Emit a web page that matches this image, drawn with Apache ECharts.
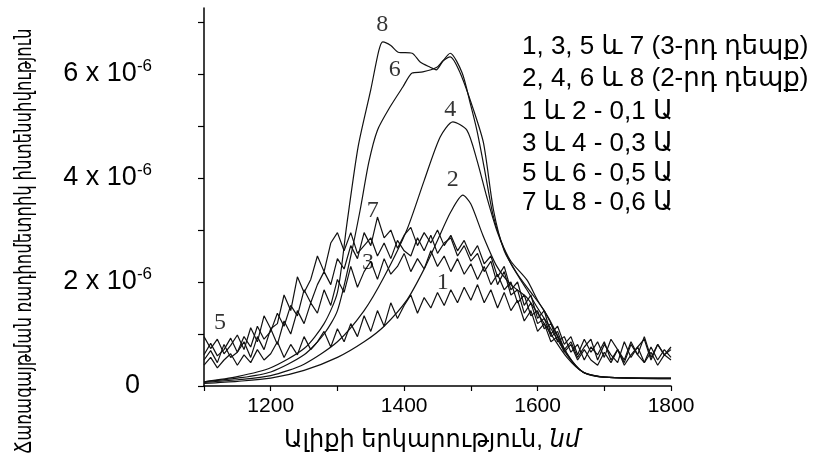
<!DOCTYPE html>
<html>
<head>
<meta charset="utf-8">
<script src="https://cdn.jsdelivr.net/npm/echarts@6/dist/echarts.min.js"></script>
<style>
html,body{margin:0;padding:0;background:#fff;}
#chart{width:813px;height:458px;}
</style>
</head>
<body>
<div id="chart"></div>
<script>
// ---------- data (intensity in units of 10^-6) ----------
var noisyWavelength = [1100,1110,1120,1130,1140,1150,1160,1170,1180,1190,1200,1210,1220,1230,1240,1250,1260,1270,1280,1290,1300,1310,1320,1330,1340,1350,1360,1370,1380,1390,1400,1410,1420,1430,1440,1450,1460,1470,1480,1490,1500,1510,1520,1530,1540,1550,1560,1570,1580,1590,1600,1610,1620,1630,1640,1650,1660,1670,1680,1690,1700,1710,1720,1730,1740,1750,1760,1770,1780,1790,1800];

var curve1 = [0.4,0.55,0.35,0.5,0.62,0.4,0.6,0.45,0.7,0.5,0.62,0.85,0.55,0.8,0.6,0.95,0.7,0.85,1.05,0.75,1.1,0.85,1.2,0.95,1.35,1.05,1.45,1.15,1.6,1.3,1.55,1.75,1.4,1.7,1.5,1.8,1.55,1.85,1.6,1.9,1.65,1.95,1.6,1.85,1.5,1.8,1.45,1.65,1.25,1.45,1.05,1.2,0.85,0.95,0.65,0.8,0.5,0.7,0.5,0.4,0.65,0.45,0.7,0.4,0.6,0.75,0.45,0.65,0.4,0.6,0.5];
var curve3 = [0.5,0.68,0.45,0.8,0.55,0.65,0.85,0.55,0.95,0.7,1.1,0.8,1.25,1.0,1.45,1.2,1.6,1.4,1.85,1.55,2.05,1.8,2.3,1.9,2.2,2.4,2.05,2.45,2.15,2.3,2.55,2.2,2.45,2.25,2.6,2.3,2.5,2.2,2.45,2.15,2.35,2.05,2.3,1.95,2.15,1.85,2.0,1.6,1.75,1.35,1.45,1.1,1.2,0.85,0.95,0.65,0.8,0.5,0.75,0.6,0.85,0.5,0.7,0.45,0.8,0.6,0.45,0.75,0.5,0.7,0.55];
var curve5 = [0.95,0.72,0.9,0.62,0.78,0.98,0.7,1.12,0.85,1.35,1.1,1.2,1.75,1.45,2.1,1.8,2.05,2.5,2.2,2.75,2.95,2.6,2.95,2.55,2.7,2.85,2.5,2.75,2.45,2.8,2.6,2.5,2.85,2.6,2.9,2.55,2.75,2.85,2.5,2.7,2.4,2.55,2.2,2.4,1.95,2.2,1.75,1.85,1.4,1.6,1.2,1.3,0.95,1.05,0.7,0.85,0.55,0.75,0.9,0.5,0.8,0.6,0.45,0.85,0.55,0.75,0.9,0.5,0.8,0.6,0.7];
var curve7 = [0.6,0.82,0.58,0.7,0.92,0.65,0.95,0.75,1.15,0.9,1.05,1.4,1.15,1.55,1.35,1.85,1.6,1.95,2.2,1.95,2.45,2.25,2.7,2.45,2.95,2.7,3.25,2.85,3.0,2.65,2.9,3.05,2.7,2.95,2.75,3.0,2.7,2.9,2.6,2.8,2.5,2.7,2.35,2.5,2.1,2.3,1.85,2.0,1.55,1.75,1.3,1.45,1.0,1.15,0.8,0.95,0.6,0.9,0.65,0.85,0.55,0.9,0.7,0.5,0.85,0.6,0.95,0.55,0.8,0.6,0.75];

var curve2Wavelength = [1100,1150,1200,1250,1300,1340,1370,1404,1430,1450,1470,1488,1500,1518,1539,1560,1584,1600,1620,1644,1668,1700,1800];
var curve2 = [0.05,0.09,0.15,0.3,0.55,0.85,1.15,1.65,2.25,2.8,3.35,3.67,3.5,2.9,2.3,1.95,1.7,1.4,1.0,0.55,0.27,0.17,0.14];

var curve4Wavelength = [1100,1150,1200,1250,1300,1340,1370,1404,1430,1454,1473,1494,1509,1524,1540,1560,1584,1600,1620,1644,1668,1700,1800];
var curve4 = [0.07,0.12,0.2,0.42,0.85,1.45,2.1,3.0,3.95,4.79,5.08,4.92,4.35,3.63,2.95,2.35,1.85,1.5,1.1,0.6,0.27,0.17,0.14];

var curve6Wavelength = [1100,1150,1200,1250,1280,1300,1320,1334,1347,1360,1379,1398,1412,1428,1449,1458,1469,1484,1504,1519,1534,1550,1570,1590,1610,1630,1650,1670,1700,1800];
var curve6 = [0.08,0.15,0.27,0.6,1.0,1.45,2.5,3.38,4.3,4.92,5.37,5.75,6.02,6.04,6.13,6.25,6.33,6.02,5.31,4.67,3.38,2.6,2.15,1.8,1.45,0.95,0.5,0.25,0.17,0.15];

var curve8Wavelength = [1100,1150,1200,1250,1280,1300,1314,1331,1350,1362,1368,1380,1391,1412,1424,1439,1448,1458,1469,1487,1499,1509,1520,1533,1545,1560,1584,1600,1619,1644,1668,1700,1800];
var curve8 = [0.08,0.18,0.35,0.72,1.2,1.8,3.1,4.6,5.7,6.45,6.62,6.55,6.42,6.40,6.23,6.13,6.08,6.25,6.4,6.02,5.44,4.92,4.2,3.3,2.8,2.4,2.04,1.65,1.25,0.63,0.27,0.17,0.15];

var curveNames = ['1','2','3','4','5','6','7','8'];
var labelWavelength = [1458,1473,1346,1469,1124,1386,1353,1367];
var labelIntensity  = [1.98,3.96,2.37,5.31,1.21,6.08,3.38,6.94];

var xTicks = [1200,1400,1600,1800];
var yTicks = [0,2,4,6];

var legendLines = [
  '1, 3, 5 և 7 (3-րդ դեպք)',
  '2, 4, 6 և 8 (2-րդ դեպք)',
  '1 և 2 - 0,1 Ա',
  '3 և 4 - 0,3 Ա',
  '5 և 6 - 0,5 Ա',
  '7 և 8 - 0,6 Ա'
];
var xTitle = 'Ալիքի երկարություն, ';
var xUnit = 'նմ';
var yTitle = 'Ճառագայթման ռադիոմետրիկ ինտենսիվություն';

// ---------- build ----------
function pairs(xs, ys){ return xs.map(function(x,i){ return [x, ys[i]]; }); }
var FONT = "'Liberation Sans','DejaVu Sans',sans-serif";
var INK = '#000';

var lineSeries = [
  {d: pairs(noisyWavelength, curve1), smooth:false},
  {d: pairs(curve2Wavelength, curve2), smooth:true},
  {d: pairs(noisyWavelength, curve3), smooth:false},
  {d: pairs(curve4Wavelength, curve4), smooth:true},
  {d: pairs(noisyWavelength, curve5), smooth:false},
  {d: pairs(curve6Wavelength, curve6), smooth:true},
  {d: pairs(noisyWavelength, curve7), smooth:false},
  {d: pairs(curve8Wavelength, curve8), smooth:true}
].map(function(s, i){
  return {
    type:'line', name: curveNames[i], data: s.d, showSymbol:false, symbol:'none',
    smooth: s.smooth ? 0.25 : false,
    lineStyle:{color:'#111', width:1.2}, silent:true, z:2
  };
});

lineSeries.push({
  type:'scatter', name:'labels', silent:true,
  symbolSize:1, itemStyle:{color:'rgba(0,0,0,0)'},
  data: labelWavelength.map(function(x,i){ return {value:[x, labelIntensity[i]], name: curveNames[i]}; }),
  label:{show:true, position:'inside', formatter:function(p){return p.name;},
         fontFamily:"'Liberation Serif','DejaVu Serif',serif", fontSize:24, color:INK},
  z:5
});

// y title: condensed to the length it has in the figure
var measureCtx = document.createElement('canvas').getContext('2d');
var yTitleFont = '22px ' + FONT;
measureCtx.font = yTitleFont;
var yTitleWidth = measureCtx.measureText(yTitle).width;
var yTitleTarget = 425;

var graphics = legendLines.map(function(t, i){
  var ys = [49, 81, 113.5, 146, 176, 205];
  return {type:'text', left:522, top: ys[i]-15, silent:true,
          style:{text:t, font:'26px ' + FONT, fill:INK}};
});
graphics.push({
  type:'text', x:25, y:241, rotation:Math.PI/2, scaleX: yTitleTarget / yTitleWidth, scaleY:1.05, silent:true,
  style:{text:yTitle, font:yTitleFont, fill:INK, align:'center', verticalAlign:'middle'}
});
graphics.push({
  type:'text', x:432, y:440, silent:true,
  style:{
    text:'{n|' + xTitle + '}{u|' + xUnit + '}',
    align:'center', verticalAlign:'middle',
    rich:{
      n:{font:'24px ' + FONT, fill:INK},
      u:{font:'italic 24px ' + FONT, fill:INK}
    }
  }
});

var chart = echarts.init(document.getElementById('chart'));
chart.setOption({
  animation:false,
  backgroundColor:'#fff',
  grid:{left:204, right:142, top:8, bottom:72, containLabel:false},
  xAxis:{
    type:'value', min:1100, max:1800, interval:100,
    axisLine:{show:true, lineStyle:{color:INK, width:1.5}},
    axisTick:{show:true, length:5, lineStyle:{color:INK, width:1.2}},
    splitLine:{show:false},
    axisLabel:{
      margin:10, color:INK, fontFamily:FONT, fontSize:21,
      formatter:function(v){ return xTicks.indexOf(v) >= 0 ? String(v) : ''; }
    }
  },
  yAxis:{
    type:'value', min:0, max:7.27, interval:1,
    axisLine:{show:true, lineStyle:{color:INK, width:1.5}},
    axisTick:{show:true, length:6, lineStyle:{color:INK, width:1.2}},
    splitLine:{show:false},
    axisLabel:{
      margin:52, color:INK, fontFamily:FONT,
      showMaxLabel:false,
      formatter:function(v){
        if (yTicks.indexOf(v) < 0) return '';
        if (v === 0) return '{z|0}';
        return '{a|' + v + ' x 10}{s|-6}';
      },
      rich:{
        a:{fontSize:27, fontFamily:FONT, color:INK},
        z:{fontSize:27, fontFamily:FONT, color:INK, padding:[0,12,0,0]},
        s:{fontSize:17, fontFamily:FONT, color:INK, verticalAlign:'top', lineHeight:32}
      }
    }
  },
  graphic: graphics,
  series: lineSeries
});
</script>
</body>
</html>
